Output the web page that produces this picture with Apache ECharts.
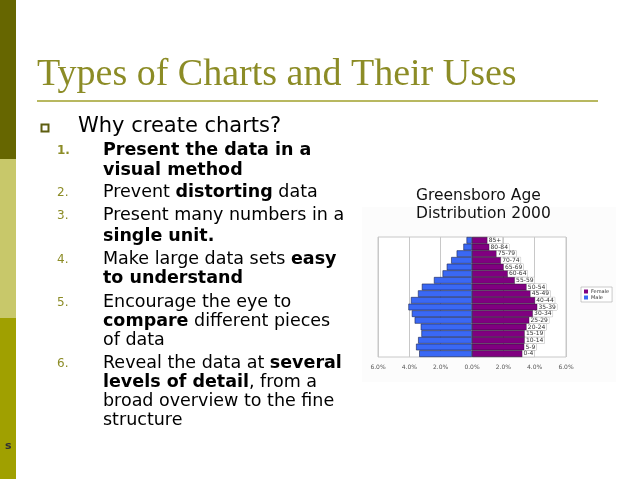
<!DOCTYPE html>
<html><head><meta charset="utf-8">
<script src="https://cdn.jsdelivr.net/npm/echarts@6/dist/echarts.min.js"></script>
<style>html,body{margin:0;padding:0;background:#fff}#c{width:638px;height:479px}</style>
</head><body><div id="c"></div>
<script>
// ---- data ----
const ageGroups = ['0-4','5-9','10-14','15-19','20-24','25-29','30-34','35-39','40-44','45-49','50-54','55-59','60-64','65-69','70-74','75-79','80-84','85+'];
const malePct   = [3.37,3.57,3.44,3.23,3.27,3.66,3.84,4.06,3.90,3.45,3.20,2.43,1.88,1.61,1.33,0.98,0.55,0.35];
const femalePct = [3.23,3.35,3.38,3.38,3.50,3.67,3.90,4.18,4.04,3.75,3.50,2.75,2.30,2.04,1.86,1.58,1.12,1.00];
const xTicks = [-6,-4,-2,0,2,4,6];
const seriesNames = ['Female','Male'];

const slideTitle = 'Types of Charts and Their Uses';
const chartTitle = ['Greensboro Age','Distribution 2000'];

const SANS = '"DejaVu Sans", Verdana, sans-serif';
const OLIVE = '#8c8c26';

const chart = echarts.init(document.getElementById('c'), null, {renderer:'canvas'});

function line(x, y, text, size){
  return {type:'text', x:x, y:y, silent:true,
    style:{text:text, fontFamily:SANS, fontSize:size, fill:'#000', verticalAlign:'middle',
      rich:{
        r:{fontFamily:SANS, fontSize:size, fill:'#000', color:'#000'},
        b:{fontFamily:SANS, fontSize:size, fontWeight:'bold', fill:'#000', color:'#000'}
      }}};
}
function num(y, t, bold){
  return {type:'text', x:57, y:y, silent:true,
    style:{text:t, fontFamily:SANS, fontSize:12, fontWeight:bold?'bold':'normal', fill:OLIVE, verticalAlign:'middle'}};
}

const FS = 17.5, TX = 103;
const graphics = [
  {type:'rect', shape:{x:0,y:0,width:16,height:159}, style:{fill:'#666600'}},
  {type:'rect', shape:{x:0,y:159,width:16,height:159}, style:{fill:'#c8c86a'}},
  {type:'rect', shape:{x:0,y:318,width:16,height:161}, style:{fill:'#a0a000'}},
  {type:'text', x:5, y:446, style:{text:'s', fontFamily:SANS, fontSize:11, fontWeight:'bold', fill:'#333', verticalAlign:'middle'}},
  {type:'text', x:37, y:75, style:{text:slideTitle, fontFamily:'"Liberation Serif", serif', fontSize:38, fill:OLIVE, verticalAlign:'middle'}},
  {type:'line', shape:{x1:37,y1:101,x2:598,y2:101}, style:{stroke:'#b8b860', lineWidth:2}},
  {type:'rect', shape:{x:41.5,y:124.5,width:7,height:7}, style:{fill:'none', stroke:'#5e5e10', lineWidth:2}},
  line(78, 127, 'Why create charts?', 21),
  num(151,'1.',true), line(TX,150,'{b|Present the data in a}',FS), line(TX,170,'{b|visual method}',FS),
  num(193,'2.'), line(TX,192,'{r|Prevent }{b|distorting}{r| data}',FS),
  num(216,'3.'), line(TX,215,'{r|Present many numbers in a}',FS), line(TX,236,'{b|single unit.}',FS),
  num(260,'4.'), line(TX,259,'{r|Make large data sets }{b|easy}',FS), line(TX,278,'{b|to understand}',FS),
  num(303,'5.'), line(TX,302,'{r|Encourage the eye to}',FS), line(TX,321,'{b|compare}{r| different pieces}',FS), line(TX,340,'{r|of data}',FS),
  num(364,'6.'), line(TX,363,'{r|Reveal the data at }{b|several}',FS), line(TX,382,'{b|levels of detail}{r|, from a}',FS),
  line(TX,401,'{r|broad overview to the fine}',FS), line(TX,420,'{r|structure}',FS),
  {type:'rect', z:-10, shape:{x:362,y:207,width:254,height:175}, style:{fill:'#fcfcfc'}},
  {type:'text', x:416, y:196, style:{text:chartTitle[0], fontFamily:SANS, fontSize:15.5, fill:'#111', verticalAlign:'middle'}},
  {type:'text', x:416, y:214, style:{text:chartTitle[1], fontFamily:SANS, fontSize:15.5, fill:'#111', verticalAlign:'middle'}}
];

chart.setOption({
  animation:false,
  backgroundColor:'#fff',
  graphic:{elements:graphics},
  grid:{left:378, top:237, width:188, height:120, show:true, backgroundColor:'#fff', borderColor:'#c8c8c8', borderWidth:1, containLabel:false},
  legend:{data:seriesNames, orient:'vertical', left:581, top:287, padding:[2,3], itemGap:1, itemWidth:4, itemHeight:4, icon:'rect',
    itemStyle:{borderWidth:0},
    backgroundColor:'#fff', borderColor:'#aaa', borderWidth:0.6, textStyle:{fontSize:5, color:'#333', fontFamily:SANS, padding:[0,0,0,-2]}},
  xAxis:{type:'value', min:-6, max:6, interval:2,
    axisLine:{show:false}, axisTick:{show:false},
    splitLine:{show:true, lineStyle:{color:'#c8c8c8', width:1}},
    axisLabel:{fontSize:6, color:'#555', fontFamily:SANS, margin:7, formatter:v=>Math.abs(v).toFixed(1)+'%'}},
  yAxis:{type:'category', data:ageGroups, axisLine:{show:false}, axisTick:{show:false}, axisLabel:{show:false}},
  series:[
    {name:'Female', type:'bar', data:femalePct, barGap:'-100%', barCategoryGap:'0%',
      itemStyle:{color:'#800080', borderColor:'#2a1030', borderWidth:0.6},
      label:{show:true, position:'right', distance:0, fontSize:6, color:'#333', fontFamily:SANS,
        backgroundColor:'#fff', borderColor:'#aaa', borderWidth:0.4, padding:[0,1],
        formatter:p=>ageGroups[p.dataIndex]}},
    {name:'Male', type:'bar', data:malePct.map(v=>-v), barGap:'-100%', barCategoryGap:'0%',
      itemStyle:{color:'#3a68f4', borderColor:'#1a2450', borderWidth:0.6}}
  ]
});
</script></body></html>
